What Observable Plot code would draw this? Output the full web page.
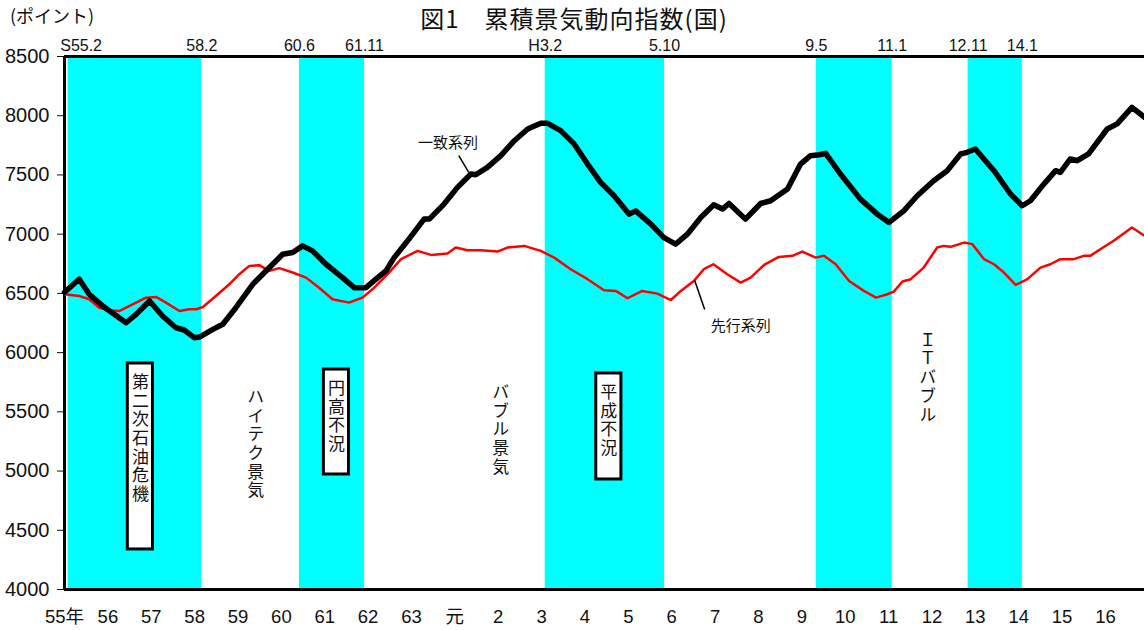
<!DOCTYPE html>
<html>
<head>
<meta charset="utf-8">
<script src="https://cdn.jsdelivr.net/npm/d3@7"></script>
<script src="https://cdn.jsdelivr.net/npm/@observablehq/plot@0.6"></script>
<style>
  html, body { margin: 0; padding: 0; background: #fff; }
  #wrap { position: relative; width: 1144px; height: 630px; overflow: hidden; background: #fff; }
  #title { position: absolute; left: 2px; width: 1144px; top: 4px; text-align: center;
           font-family: "Noto Sans CJK JP", sans-serif; font-size: 24px; letter-spacing: 1px; line-height: 28px; color: #111; white-space: pre; }
  #unit { position: absolute; left: 10px; top: 3px; font-family: "Noto Sans CJK JP", sans-serif;
          font-size: 18px; line-height: 24px; color: #111; }
</style>
</head>
<body>
<div id="wrap">
  <div id="chart"></div>
  <div id="title">図1　累積景気動向指数(国)</div>
  <div id="unit">(ポイント)</div>
</div>
<script>
// ---- Data ----
// Years (decimal) and values of 一致系列 (coincident series)
const coinT = [1980.00,1980.34,1980.57,1980.88,1981.42,1981.65,1981.96,1982.26,1982.57,1982.76,1982.99,1983.11,1983.42,1983.65,1983.95,1984.34,1984.57,1985.03,1985.26,1985.49,1985.72,1986.03,1986.41,1986.68,1986.95,1987.18,1987.41,1987.60,1987.91,1988.29,1988.41,1988.75,1989.06,1989.37,1989.48,1989.75,1990.06,1990.37,1990.68,1990.98,1991.14,1991.44,1991.75,1992.06,1992.36,1992.67,1993.02,1993.17,1993.52,1993.82,1994.09,1994.36,1994.67,1994.97,1995.17,1995.32,1995.70,1996.05,1996.28,1996.67,1996.97,1997.20,1997.40,1997.55,1997.89,1998.35,1998.74,1999.01,1999.35,1999.66,2000.04,2000.35,2000.66,2000.81,2001.00,2001.43,2001.81,2002.08,2002.27,2002.58,2002.85,2002.96,2003.19,2003.35,2003.61,2004.04,2004.27,2004.61,2004.90];
const coinV = [6510,6620,6493,6394,6252,6323,6436,6309,6210,6191,6126,6131,6196,6239,6379,6577,6662,6831,6845,6901,6859,6746,6633,6548,6548,6620,6690,6802,6944,7127,7127,7254,7395,7508,7502,7564,7663,7789,7888,7936,7936,7874,7762,7592,7437,7324,7169,7197,7085,6971,6916,7000,7141,7248,7212,7259,7127,7259,7282,7381,7592,7663,7670,7682,7508,7296,7169,7099,7197,7324,7451,7536,7677,7691,7719,7536,7339,7240,7282,7423,7536,7522,7635,7620,7677,7888,7931,8071,7987];

// Years (decimal) and values of 先行系列 (leading series)
const leadT = [1980.00,1980.34,1980.57,1980.80,1981.03,1981.26,1981.57,1981.88,1982.11,1982.34,1982.65,1982.88,1983.04,1983.19,1983.49,1983.80,1984.03,1984.26,1984.49,1984.72,1984.95,1985.26,1985.57,1985.87,1986.18,1986.56,1986.87,1987.14,1987.45,1987.76,1988.14,1988.45,1988.83,1989.02,1989.29,1989.60,1989.98,1990.21,1990.60,1990.98,1991.29,1991.67,1992.06,1992.44,1992.71,1992.98,1993.32,1993.67,1993.98,1994.21,1994.51,1994.74,1994.96,1995.28,1995.59,1995.82,1996.13,1996.47,1996.78,1997.01,1997.32,1997.51,1997.78,1998.09,1998.43,1998.71,1998.97,1999.12,1999.32,1999.51,1999.81,2000.12,2000.27,2000.43,2000.74,2000.93,2001.20,2001.43,2001.66,2001.93,2002.20,2002.50,2002.73,2002.96,2003.27,2003.50,2003.65,2003.88,2004.19,2004.61,2004.90];
const leadV = [6493,6478,6450,6379,6357,6351,6408,6464,6470,6422,6351,6366,6366,6385,6478,6577,6662,6732,6738,6690,6713,6676,6633,6548,6450,6422,6464,6548,6662,6789,6859,6825,6836,6887,6865,6865,6853,6887,6901,6859,6802,6704,6620,6527,6521,6459,6521,6498,6444,6521,6605,6704,6746,6662,6591,6633,6740,6808,6817,6853,6802,6817,6746,6605,6521,6464,6493,6515,6600,6620,6718,6887,6901,6893,6929,6916,6789,6746,6676,6571,6620,6718,6746,6789,6789,6817,6817,6873,6944,7056,6986];

// Recession periods: [year, month] of start and end
const recStart = [[1980,2],[1985,6],[1991,2],[1997,5],[2000,11]];
const recEnd   = [[1983,2],[1986,11],[1993,10],[1999,1],[2002,1]];
const recStartLabel = ["S55.2","60.6","H3.2","9.5","12.11"];
const recEndLabel   = ["58.2","61.11","5.10","11.1","14.1"];

// Axis ticks
const yTicks = [4000,4500,5000,5500,6000,6500,7000,7500,8000,8500];
const xYears = [1980,1981,1982,1983,1984,1985,1986,1987,1988,1989,1990,1991,1992,1993,1994,1995,1996,1997,1998,1999,2000,2001,2002,2003,2004];
const xLabels = ["55年","56","57","58","59","60","61","62","63","元","2","3","4","5","6","7","8","9","10","11","12","13","14","15","16"];

// Annotations (period names) : position in data coordinates
const boxedNames  = ["第二次石油危機","円高不況","平成不況"];
const boxedX      = [1981.75, 1986.27, 1992.55];
const boxedTop    = [5908, 5857, 5824];
const boxedBottom = [4338, 4971, 4929];
const freeNames = ["ハイテク景気","バブル景気","ＩＴバブル"];
const freeX     = [1984.41, 1990.06, 1999.90];
const freeTop   = [5748, 5790, 6229];

// Series labels with leader lines
const seriesNames = ["一致系列","先行系列"];
const seriesLabelX = [1988.84, 1995.59];
const seriesLabelY = [7765, 6220];
const leaderX1 = [1989.09, 1994.53], leaderY1 = [7664, 6609];
const leaderX2 = [1989.32, 1994.76], leaderY2 = [7521, 6364];

// ---- Build tables ----
const ym = ([y, m]) => y + (m - 1) / 12;      // start of month
const ymEnd = ([y, m]) => y + m / 12;         // end of month
const coin = coinT.map((t, i) => ({t, v: coinV[i]}));
const lead = leadT.map((t, i) => ({t, v: leadV[i]}));
const rec = recStart.map((s, i) => ({start: ym(s), end: ymEnd(recEnd[i])}));
const bLabels = [];
rec.forEach((r, i) => {
  if (i > 0) bLabels.push({t: r.start, text: recStartLabel[i]});
  bLabels.push({t: r.end, text: recEndLabel[i]});
});
const firstLabel = [{t: rec[0].start, text: recStartLabel[0]}];
const boxed = boxedNames.map((n, i) => ({n, x: boxedX[i], top: boxedTop[i], bottom: boxedBottom[i]}));
const free = freeNames.map((n, i) => ({n, x: freeX[i], top: freeTop[i]}));
const sLabels = seriesNames.map((n, i) => ({n, x: seriesLabelX[i], y: seriesLabelY[i]}));
const leaders = seriesNames.map((n, i) => ({x1: leaderX1[i], y1: leaderY1[i], x2: leaderX2[i], y2: leaderY2[i]}));
const labelOf = new Map(xYears.map((y, i) => [y, xLabels[i]]));
const yMin = d3.min(yTicks), yMax = d3.max(yTicks);
const boxHalf = 0.29;

const sans = "'Liberation Sans', Arial, 'Noto Sans CJK JP', sans-serif";
const jp = "'Noto Sans CJK JP', sans-serif";

const chart = Plot.plot({
  width: 1144, height: 630,
  marginLeft: 64, marginRight: 0, marginTop: 56, marginBottom: 41,
  style: {fontFamily: sans, background: "white", color: "#111"},
  x: {domain: [1980, 2004.9], axis: null},
  y: {domain: [yMin, yMax], axis: null},
  marks: [
    Plot.rect(rec, {x1: "start", x2: "end", y1: () => yMin, y2: () => yMax, fill: "#00FFFF"}),
    Plot.axisY({ticks: yTicks, tickSize: 7, tickPadding: 8, fontSize: 20, tickFormat: d => String(d), stroke: "#111", fill: "#111"}),
    Plot.axisX({ticks: xYears, tickSize: 0, tickPadding: 20, fontSize: 18.5, tickFormat: d => labelOf.get(d), fill: "#111", fontFamily: sans}),
    Plot.ruleX([1980], {stroke: "black", strokeWidth: 3}),
    Plot.ruleY([yMin, yMax], {stroke: "black", strokeWidth: 3}),
    Plot.text(bLabels, {x: "t", y: () => yMax, text: "text", dy: -10.6, fontSize: 16, fill: "#111"}),
    Plot.text(firstLabel, {x: "t", y: () => yMax, text: "text", dy: -10.6, dx: 13, fontSize: 16, fill: "#111"}),
    Plot.rect(boxed, {x1: d => d.x - boxHalf, x2: d => d.x + boxHalf, y1: "bottom", y2: "top", fill: "white", stroke: "black", strokeWidth: 3}),
    Plot.text(boxed, {x: "x", y: "top", text: "n", dy: 4, fontSize: 17, fontFamily: jp, fill: "#111"}),
    Plot.text(free, {x: "x", y: "top", text: "n", fontSize: 17, fontFamily: jp, fill: "#111"}),
    Plot.line(lead, {x: "t", y: "v", stroke: "#FF0000", strokeWidth: 2.5, strokeLinejoin: "round"}),
    Plot.line(coin, {x: "t", y: "v", stroke: "black", strokeWidth: 5.5, strokeLinejoin: "round", strokeLinecap: "round"}),
    Plot.link(leaders, {x1: "x1", y1: "y1", x2: "x2", y2: "y2", stroke: "black", strokeWidth: 1.5}),
    Plot.text(sLabels, {x: "x", y: "y", text: "n", fontSize: 15, fontFamily: jp, fill: "#111"})
  ]
});

// Render period names vertically (top-to-bottom Japanese writing)
const verticalSet = new Set([...boxedNames, ...freeNames]);
d3.select(chart).selectAll("text")
  .filter(function () { return verticalSet.has(this.textContent); })
  .attr("dy", null)
  .attr("text-anchor", "start")
  .style("writing-mode", "vertical-rl")
  .style("letter-spacing", "1.7px");

document.getElementById("chart").appendChild(chart);
</script>
</body>
</html>
